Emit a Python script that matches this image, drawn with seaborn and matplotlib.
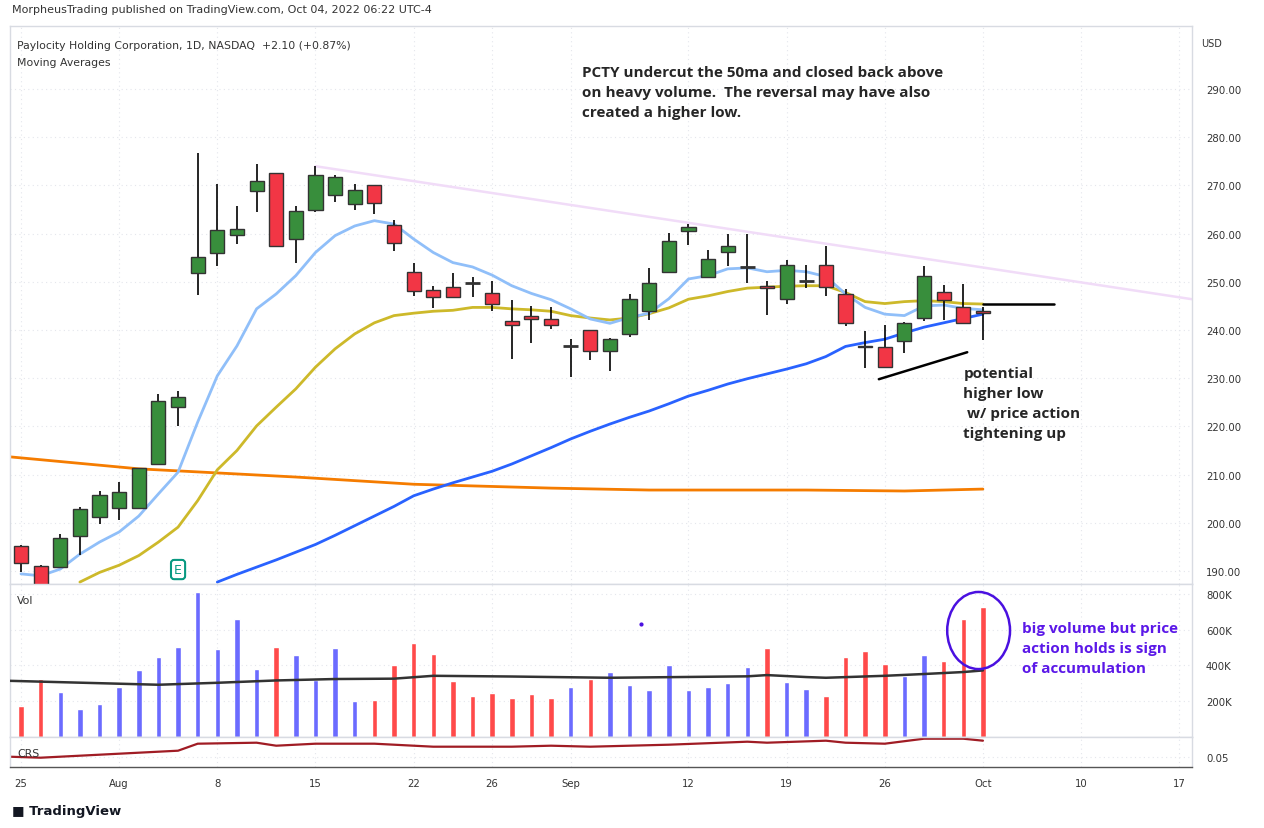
import numpy as np
import pandas as pd
import matplotlib.pyplot as plt
import matplotlib.patches as mpatches
import seaborn as sns

# daily candles, Jul 25 -> Oct 3 2022 (trading-day index)
opens = [195.1, 191.0, 190.8, 197.3, 201.3, 203.0, 203.0, 212.2, 224.0, 251.8,
         255.9, 259.8, 268.9, 272.5, 258.9, 265.0, 268.0, 266.1, 270.1, 261.9,
         252.0, 248.4, 248.9, 249.8, 247.6, 241.8, 243.0, 242.2, 236.7, 240.1,
         235.6, 239.1, 243.9, 252.0, 260.6, 251.1, 256.1, 253.1, 249.1, 246.4,
         250.2, 253.4, 247.4, 236.7, 236.5, 237.7, 242.5, 247.8, 244.7, 243.9]
closes = [191.6, 187.0, 196.8, 202.9, 205.8, 206.3, 211.3, 225.2, 226.2, 255.1,
          260.7, 260.9, 270.9, 257.5, 264.8, 272.2, 271.7, 269.0, 266.3, 258.0,
          248.2, 246.8, 246.8, 249.7, 245.5, 241.1, 242.2, 241.0, 236.7, 235.6,
          238.1, 246.4, 249.7, 258.4, 261.3, 254.7, 257.4, 253.1, 248.7, 253.6,
          250.2, 249.0, 241.4, 236.5, 232.3, 241.5, 251.3, 246.2, 241.4, 243.5]
highs = [195.3, 191.2, 197.7, 203.2, 206.7, 208.4, 211.4, 226.7, 227.4, 276.7,
         270.3, 265.8, 274.4, 272.5, 265.8, 274.1, 272.2, 270.3, 270.1, 262.8,
         254.0, 249.1, 251.8, 251.1, 250.2, 246.2, 245.0, 244.8, 238.1, 240.1,
         238.3, 247.5, 252.9, 260.1, 262.0, 256.6, 259.9, 259.9, 250.2, 254.5,
         253.5, 257.4, 248.5, 239.8, 241.0, 241.6, 253.2, 249.3, 249.5, 244.7]
lows = [189.7, 186.0, 190.6, 193.4, 199.8, 200.6, 203.0, 212.0, 220.0, 247.3,
        253.3, 257.8, 264.5, 257.2, 254.0, 264.4, 266.6, 265.0, 264.1, 256.5,
        247.1, 244.6, 246.7, 246.9, 244.0, 234.0, 237.4, 240.3, 230.3, 233.8,
        231.6, 238.6, 242.1, 252.0, 257.7, 251.1, 253.3, 249.7, 243.2, 245.5,
        248.7, 247.1, 240.9, 232.2, 232.3, 235.2, 241.8, 242.1, 241.2, 238.0]

ma10 = [189.4, 189.0, 190.4, 193.5, 196.0, 198.1, 201.4, 206.0, 210.5, 220.9,
        230.5, 236.7, 244.4, 247.5, 251.3, 256.1, 259.6, 261.6, 262.7, 262.0,
        258.9, 256.1, 254.0, 253.1, 251.4, 249.2, 247.6, 246.3, 244.4, 242.3,
        241.4, 242.6, 243.5, 246.5, 250.6, 251.3, 252.7, 252.9, 252.1, 252.4,
        252.1, 251.1, 247.5, 244.7, 243.3, 243.0, 245.0, 245.2, 244.5, 244.2]
ma20_idx = list(range(3, 50))
ma20 = [187.7, 189.7, 191.2, 193.2, 196.0, 199.1, 204.6, 211.0, 215.0, 220.1,
        224.0, 227.8, 232.3, 236.1, 239.2, 241.5, 243.0, 243.5, 243.9, 244.1,
        244.7, 244.7, 244.4, 244.2, 243.9, 243.0, 242.5, 242.1, 242.5, 243.4,
        244.6, 246.4, 247.1, 248.0, 248.7, 248.9, 249.1, 249.2, 249.2, 247.8,
        245.9, 245.5, 245.9, 246.1, 245.9, 245.5, 245.4]
ma50_idx = list(range(10, 50))
ma50 = [187.7, 189.3, 190.8, 192.3, 193.9, 195.5, 197.4, 199.4, 201.4, 203.4,
        205.6, 207.0, 208.3, 209.5, 210.7, 212.2, 213.9, 215.6, 217.4, 219.0,
        220.5, 221.9, 223.2, 224.7, 226.3, 227.5, 228.8, 229.9, 230.9, 231.9,
        233.0, 234.5, 236.6, 237.4, 238.1, 239.4, 240.6, 241.5, 242.4, 243.3]
ma200_idx = [-0.6, 6, 14, 20, 27, 32, 40, 45, 49]
ma200 = [213.7, 211.2, 209.5, 208.0, 207.2, 206.8, 206.8, 206.6, 207.0]

volume = [175, 326, 253, 158, 186, 281, 376, 448, 504, 811,
          493, 660, 381, 504, 460, 316, 499, 203, 208, 404,
          527, 465, 314, 231, 247, 220, 242, 220, 281, 326,
          365, 292, 264, 404, 264, 281, 303, 393, 499, 309,
          270, 231, 448, 482, 409, 342, 460, 426, 660, 727]
vol_ma_idx = [-0.6, 7, 10, 13, 16, 19, 21, 25, 30, 37, 38, 40, 41, 44, 46, 48, 49]
vol_ma = [314, 292, 303, 316, 324, 326, 342, 338, 331, 339, 346, 335, 331, 342, 352, 363, 372]

crs_idx = [-0.6, 1, 8, 9, 12, 13, 15, 18, 21, 24, 25, 27, 29, 33, 37, 38, 41, 42, 44, 46, 48, 49]
crs = [0.050, 0.049, 0.056, 0.063, 0.064, 0.061, 0.063, 0.063, 0.060, 0.060, 0.060,
       0.061, 0.060, 0.062, 0.065, 0.064, 0.066, 0.064, 0.063, 0.068, 0.068, 0.066]

date_idx = [0, 5, 10, 15, 20, 24, 28, 34, 39, 44, 49, 54, 59]
date_labels = ['25', 'Aug', '8', '15', '22', '26', 'Sep', '12', '19', '26', 'Oct', '10', '17']
price_ticks = [190, 200, 210, 220, 230, 240, 250, 260, 270, 280, 290]

W, H = 1264, 829
sns.set_theme(style='white')
plt.rcParams['font.family'] = 'DejaVu Sans'
fig = plt.figure(figsize=(W / 100, H / 100), dpi=100)


def box(l, t, r, b):
    return [l / W, 1 - b / H, (r - l) / W, (b - t) / H]


ax = fig.add_axes(box(10, 27, 1192, 585))
axv = fig.add_axes(box(10, 585, 1192, 738), sharex=ax)
axc = fig.add_axes(box(10, 738, 1192, 768), sharex=ax)

txt = '#333333'
grid = dict(color='#e4e6ec', linestyle=(0, (1, 3)), linewidth=0.8)
for a in (ax, axv, axc):
    a.set_facecolor('white')
    for s in a.spines.values():
        s.set_color('#d8dbe2')
        s.set_linewidth(1)
    a.yaxis.tick_right()
    a.tick_params(axis='y', length=0, labelsize=7.3, labelcolor=txt, pad=10)
    a.tick_params(axis='x', length=0)
    for xi in date_idx:
        a.axvline(xi, zorder=0, **grid)
axc.spines['bottom'].set_color('#555555')

ax.set_xlim(-0.56, 59.65)
ax.set_ylim(187.3, 303.1)
ax.set_yticks(price_ticks)
ax.set_yticklabels([f'{v:.2f}' for v in price_ticks])
for yv in price_ticks:
    ax.axhline(yv, zorder=0, **grid)

df = pd.DataFrame({'i': np.arange(len(opens)), 'o': opens, 'c': closes, 'h': highs, 'l': lows})

# moving averages
sns.lineplot(x=ma200_idx, y=ma200, ax=ax, color='#f57c00', lw=2, zorder=2)
sns.lineplot(x=ma50_idx, y=ma50, ax=ax, color='#2962ff', lw=2, zorder=2)
sns.lineplot(x=ma20_idx, y=ma20, ax=ax, color='#cdb92a', lw=2, zorder=2)
sns.lineplot(x=df['i'], y=ma10, ax=ax, color='#90bff9', lw=2, zorder=2)

# trendlines
ax.plot([15, 59.65], [274.0, 246.4], color='#f1dcf8', lw=1.8, zorder=1)
ax.plot([49, 52.6], [245.5, 245.5], color='black', lw=1.8, zorder=4)
ax.plot([43.7, 48.2], [229.8, 235.4], color='black', lw=1.8, zorder=4)

# candles
for _, r in df.iterrows():
    ax.vlines(r['i'], r['l'], r['h'], color='black', lw=1.2, zorder=3)
    lo, hi = min(r['o'], r['c']), max(r['o'], r['c'])
    if hi - lo < 0.15:
        ax.hlines(r['c'], r['i'] - 0.38, r['i'] + 0.38, color='#333333', lw=2, zorder=4)
        continue
    col = '#388e3c' if r['c'] > r['o'] else '#f23645'
    ax.bar(r['i'], hi - lo, bottom=lo, width=0.72, color=col, edgecolor='#333333',
           linewidth=1, zorder=4)

ax.text(8, 190.3, 'E', ha='center', va='center', fontsize=9, color='#089981',
        bbox=dict(boxstyle='round,pad=0.25', fc='white', ec='#089981', lw=1.5), zorder=5)

ax.text(0.006, 0.975, 'Paylocity Holding Corporation, 1D, NASDAQ  +2.10 (+0.87%)',
        transform=ax.transAxes, fontsize=7.8, color=txt, va='top')
ax.text(0.006, 0.945, 'Moving Averages', transform=ax.transAxes, fontsize=7.8, color=txt, va='top')
ax.text(1.008, 0.978, 'USD', transform=ax.transAxes, fontsize=7, color=txt, va='top')

ax.text(28.6, 295, 'PCTY undercut the 50ma and closed back above\non heavy volume.  The reversal may have also\ncreated a higher low.',
        fontsize=11, fontweight='bold', family='Open Sans', va='top', linespacing=1.55)
ax.text(48.0, 232.5, 'potential\nhigher low\n w/ price action\ntightening up',
        fontsize=11, fontweight='bold', family='Open Sans', va='top', linespacing=1.55)

# volume
vol_col = ['#6b6bff' if c >= o else '#ff4a4a' for o, c in zip(opens, closes)]
vol_col[23] = '#ff4a4a'
axv.bar(df['i'], volume, width=0.28, color=vol_col, zorder=2)
sns.lineplot(x=vol_ma_idx, y=vol_ma, ax=axv, color='#333333', lw=1.8, zorder=3)
axv.set_ylim(0, 855)
vt = [200, 400, 600, 800]
axv.set_yticks(vt)
axv.set_yticklabels([f'{v}K' for v in vt])
for yv in vt:
    axv.axhline(yv, zorder=0, **grid)
axv.text(0.006, 0.93, 'Vol', transform=axv.transAxes, fontsize=7.8, color=txt, va='top')
axv.add_patch(mpatches.Ellipse((48.78, 595), 3.2, 431, fill=False, ec='#4a10e0', lw=1.8, zorder=5))
axv.plot([31.6], [630], 'o', color='#4a10e0', ms=2)
axv.text(51.0, 650, 'big volume but price\naction holds is sign\nof accumulation', color='#5b18e8',
         fontsize=11, fontweight='bold', family='Open Sans', va='top', linespacing=1.55)

# CRS
sns.lineplot(x=crs_idx, y=crs, ax=axc, color='#a01c24', lw=1.6)
axc.set_ylim(0.0397, 0.0697)
axc.set_yticks([0.05])
axc.set_yticklabels(['0.05'])
axc.axhline(0.05, zorder=0, **grid)
axc.text(0.006, 0.62, 'CRS', transform=axc.transAxes, fontsize=7.8, color=txt, va='top')

for a in (ax, axv):
    plt.setp(a.get_xticklabels(), visible=False)
    a.set_xlabel('')
    a.set_ylabel('')
axc.set_ylabel('')
axc.set_xticks(date_idx)
axc.set_xticklabels(date_labels)
axc.tick_params(axis='x', labelsize=7.3, labelcolor=txt, pad=8)

fig.text(12 / W, 1 - 10 / H, 'MorpheusTrading published on TradingView.com, Oct 04, 2022 06:22 UTC-4',
         fontsize=8, color=txt, va='center')
fig.text(12 / W, 1 - 812 / H, '\u25a0 TradingView', fontsize=9.5, fontweight='bold', color='#131722', va='center')

fig.savefig('out.png', dpi=100)
